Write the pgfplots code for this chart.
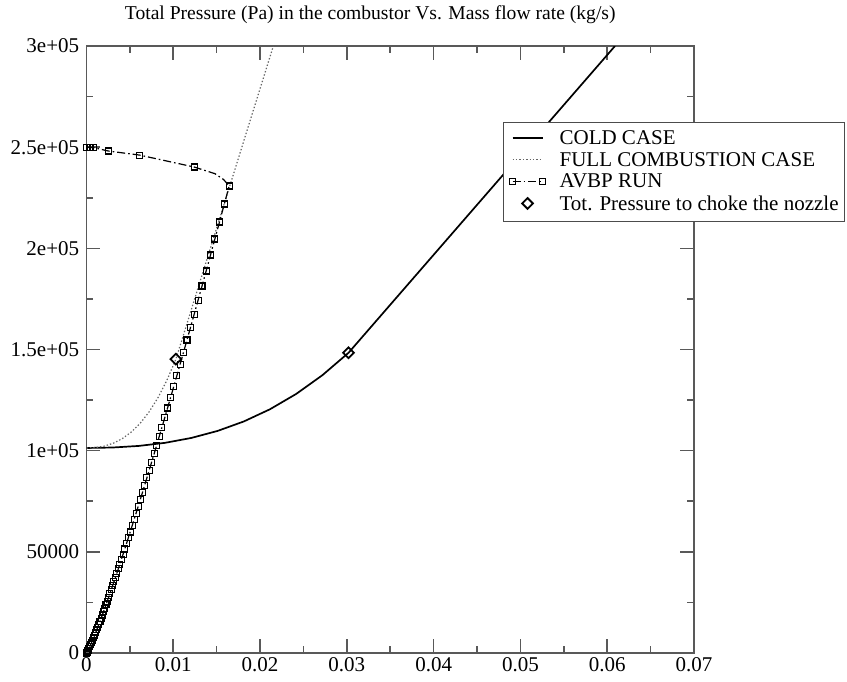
\documentclass[border=0pt]{standalone}
\usepackage{fontspec}
\setmainfont{Liberation Serif}
\usepackage{pgfplots}
\usepackage{pgfplotstable}
\pgfplotsset{compat=1.18}
\pgfplotsset{
  legline/.style={legend image code/.code={\path[draw=none,fill=none] (0pt,-3pt) rectangle (20.5pt,4pt); \draw[##1] (3.5pt,0.5pt) -- (18.5pt,0.5pt);}},
  legavbp/.style={legend image code/.code={\path[draw=none,fill=none] (0pt,-3pt) rectangle (20.5pt,4pt); \draw[##1, mark=square, mark size=1.5pt, mark options={solid, line width=0.5pt}] plot coordinates {(3.5pt,0.5pt) (18.5pt,0.5pt)};}},
  legmark/.style={legend image code/.code={\path[draw=none,fill=none] (0pt,-3pt) rectangle (20.5pt,4pt); \draw[##1] plot coordinates {(11pt,0.5pt)};}},
}

\pgfplotstableread{
m p
0 101325
0.00302 101555
0.00604 102352
0.00906 103877
0.01208 106290
0.0151 109751
0.01812 114422
0.02114 120461
0.02416 128031
0.02718 137290
0.0302 148400
0.0609 300000
}\coldcase

\pgfplotstableread{
m p
0 101300
0.00103 101515
0.00206 102258
0.00309 103680
0.00412 105930
0.00515 109158
0.00618 113513
0.00721 119145
0.00824 126204
0.00927 134839
0.0103 145200
0.02153 300000
}\fullcomb

\pgfplotstableread{
m p
0 250000
0.0004 249900
0.0008 249800
0.0025 248100
0.0061 246100
0.0124 240200
0.0148 236900
0.0158 234000
0.01644 230800
0.015883 221900
0.015323 213000
0.014792 204600
0.014291 196700
0.013786 188800
0.013312 181400
0.012854 174300
0.012413 167500
0.011990 161000
0.011578 154700
0.011177 148600
0.010787 142700
0.010409 137000
0.010041 131500
0.009686 126200
0.009342 121100
0.009010 116200
0.008690 111500
0.008381 107000
0.008079 102600
0.007788 98400
0.007503 94300
0.007230 90400
0.006963 86600
0.006702 82900
0.006446 79300
0.006196 75800
0.005952 72400
0.005713 69100
0.005481 65900
0.005254 62800
0.005033 59800
0.004819 56900
0.004610 54100
0.004408 51400
0.004212 48800
0.004022 46300
0.003839 43900
0.003662 41600
0.003492 39400
0.003328 37300
0.003163 35200
0.003005 33200
0.002846 31200
0.002694 29300
0.002540 27400
0.002393 25600
0.002245 23800
0.002104 22100
0.001961 20400
0.001826 18800
0.001689 17200
0.001559 15700
0.001428 14200
0.001304 12800
0.001178 11400
0.001059 10100
0.000939 8800
0.000826 7600
0.000710 6400
0.000602 5300
0.000491 4200
0.000387 3200
0.000278 2200
0.000176 1300
0.000076 500
0 0
}\avbp

\pgfplotstableread{
m p
0.0103 145200
0.0302 148400
}\choke

\begin{document}
\begin{tikzpicture}
\begin{axis}[
  at={(0pt,0pt)}, anchor=south west,
  scale only axis,
  width=303.75pt, height=303.5pt,
  xmin=0, xmax=0.07, ymin=0, ymax=300000,
  xtick={0,0.01,0.02,0.03,0.04,0.05,0.06,0.07},
  xticklabels={0,0.01,0.02,0.03,0.04,0.05,0.06,0.07},
  ytick={0,50000,100000,150000,200000,250000,300000},
  yticklabels={0,50000,1e+05,1.5e+05,2e+05,2.5e+05,3e+05},
  minor x tick num=1, minor y tick num=1,
  scaled ticks=false,
  tick align=inside,
  major tick length=7pt, minor tick length=3.5pt,
  every tick/.append style={black!65, line width=0.8pt},
  axis line style={black!65, line width=0.8pt},
  tick label style={font=\fontsize{10.5}{12}\selectfont, text=black},
  xticklabel style={inner sep=2pt},
  yticklabel style={inner sep=3.5pt},
  title={Total Pressure (Pa) in the combustor Vs. Mass flow rate (kg/s)},
  title style={font=\fontsize{9.8}{12}\selectfont, at={(0.5,1)}, anchor=base, xshift=-10pt, yshift=7.5pt, inner sep=0pt},
  clip mode=individual,
  legend cell align=left,
  legend style={at={(0.6856,0.8748)}, anchor=north west,
    draw=black!70, line width=0.6pt, fill=white,
    font=\fontsize{10.5}{12}\selectfont,
    inner xsep=1pt, inner ysep=2pt,
    column sep=4.5pt, row sep=-1.6pt},
]
\addplot[black, line width=0.85pt, no marks, legline]
  table[x=m, y=p] {\coldcase};
\addlegendentry{COLD CASE}

\addplot[black!60, line width=0.6pt, dash pattern=on 0.7pt off 1pt, no marks, legline]
  table[x=m, y=p] {\fullcomb};
\addlegendentry{FULL COMBUSTION CASE}

\addplot[black, line width=0.6pt, dash pattern=on 4pt off 1.5pt on 0.8pt off 1.5pt, no marks, legavbp]
  table[x=m, y=p] {\avbp};
\addlegendentry{AVBP RUN}

\addplot[black, only marks, mark=square, mark size=1.5pt, mark options={solid, line width=0.55pt},
  skip coords between index={6}{8}, forget plot]
  table[x=m, y=p] {\avbp};

\addplot[black, only marks, mark=square, mark size=1.9pt, mark options={rotate=45, line width=0.9pt, solid}, legmark]
  table[x=m, y=p] {\choke};
\addlegendentry{Tot. Pressure to choke the nozzle}
\end{axis}
\pgfresetboundingbox
\path[use as bounding box] (-43.25pt,-14pt) rectangle (380.25pt,326.5pt);
\end{tikzpicture}
\end{document}
